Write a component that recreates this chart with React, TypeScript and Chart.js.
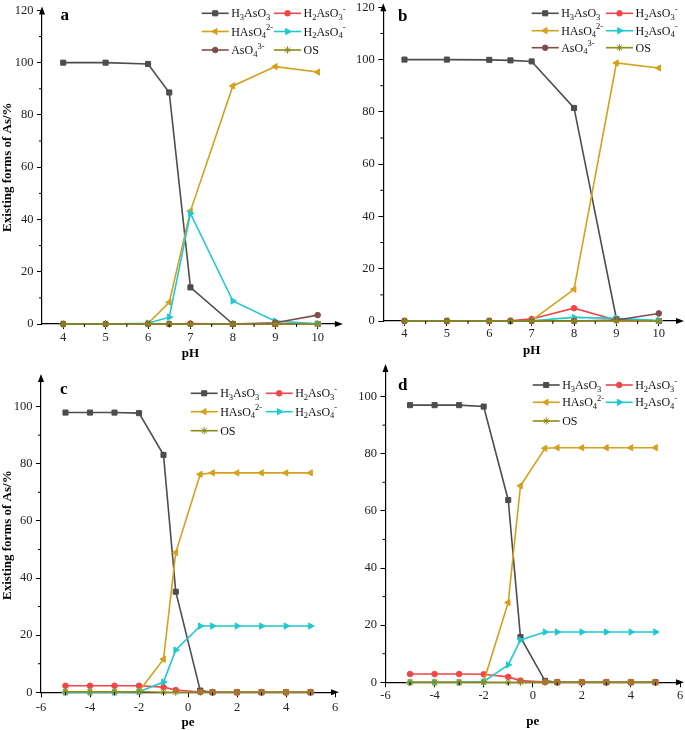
import React, { useEffect, useRef } from 'react';
import { Chart, registerables } from 'chart.js';
import { drawPoint } from 'chart.js/helpers';

Chart.register(...registerables);

// ---------- data ----------
const speciesLabels = ['H₃AsO₃', 'H₂AsO₃⁻', 'HAsO₄²⁻', 'H₂AsO₄⁻', 'AsO₄³⁻', 'OS'];

const pHValues = [4, 5, 6, 6.5, 7, 8, 9, 10];
const peValues = [-5, -4, -3, -2, -1, -0.5, 0.5, 1, 2, 3, 4, 5];

const pHTicks = [4, 5, 6, 7, 8, 9, 10];
const pHMinorTicks = [4.5, 5.5, 6.5, 7.5, 8.5, 9.5];
const peTicks = [-6, -4, -2, 0, 2, 4, 6];
const peMinorTicks = [-5, -3, -1, 1, 3, 5];
const yTicks120 = [0, 20, 40, 60, 80, 100, 120];
const yMinor120 = [10, 30, 50, 70, 90, 110];
const yTicks100 = [0, 20, 40, 60, 80, 100];
const yMinor100 = [10, 30, 50, 70, 90];

// panel a (pH)
const aH3AsO3 = [100, 100, 99.5, 88.6, 14.0, 0, 0, 0];
const aH2AsO3 = [0, 0, 0, 0, 0.2, 0, 0, 0];
const aHAsO4 = [0, 0, 0.2, 8.3, 43.2, 91.1, 98.5, 96.4];
const aH2AsO4 = [0, 0, 0.3, 2.6, 42.3, 8.8, 1.1, 0.1];
const aAsO4 = [0, 0, 0, 0, 0, 0, 0.5, 3.4];
const aOS = [0, 0, 0, 0, 0, 0, 0, 0];

// panel b (pH)
const bH3AsO3 = [100, 100, 99.9, 99.7, 99.3, 81.5, 0.8, 0];
const bH2AsO3 = [0, 0, 0, 0.1, 0.8, 4.9, 0.3, 0];
const bHAsO4 = [0, 0, 0, 0, 0.2, 12.1, 98.7, 96.8];
const bH2AsO4 = [0, 0, 0, 0, 0.1, 1.4, 1.0, 0.2];
const bAsO4 = [0, 0, 0, 0, 0, 0, 0.4, 2.9];
const bOS = [0, 0, 0, 0, 0, 0, 0, 0];

// panel c (pe)
const cH3AsO3 = [97.9, 97.9, 97.9, 97.7, 83.1, 35.2, 0.6, 0, 0, 0, 0, 0];
const cH2AsO3 = [2.3, 2.3, 2.3, 2.3, 1.8, 0.8, 0.1, 0, 0, 0, 0, 0];
const cHAsO4 = [0, 0, 0, 0.3, 11.6, 48.9, 76.3, 76.8, 76.8, 76.8, 76.8, 76.8];
const cH2AsO4 = [0, 0, 0, 0.2, 3.6, 14.8, 23.2, 23.2, 23.2, 23.2, 23.2, 23.2];
const cOS = [0.2, 0.2, 0.2, 0.2, 0, 0, 0, 0, 0, 0, 0, 0];

// panel d (pe)
const dH3AsO3 = [97.0, 97.0, 97.0, 96.5, 63.8, 15.8, 0.5, 0, 0, 0, 0, 0];
const dH2AsO3 = [2.9, 2.9, 2.9, 2.8, 1.9, 0.6, 0.1, 0, 0, 0, 0, 0];
const dHAsO4 = [0, 0, 0, 0.2, 27.9, 68.8, 81.9, 82.1, 82.1, 82.1, 82.1, 82.1];
const dH2AsO4 = [0, 0, 0, 0.2, 6.1, 14.8, 17.6, 17.6, 17.6, 17.6, 17.6, 17.6];
const dOS = [0, 0, 0, 0, 0, 0, 0, 0, 0, 0, 0, 0];

// ---------- styles ----------
const seriesStyles = [
  { color: '#4d4d4d', pointStyle: 'rect', radius: 3.6, rotation: 0 },
  { color: '#f2454a', pointStyle: 'circle', radius: 2.8, rotation: 0 },
  { color: '#d4a11c', pointStyle: 'triangle', radius: 3.6, rotation: -90 },
  { color: '#1fc9cf', pointStyle: 'triangle', radius: 3.6, rotation: 90 },
  { color: '#7f4d4d', pointStyle: 'circle', radius: 2.8, rotation: 0 },
  { color: '#8c8c14', pointStyle: 'star', radius: 3.6, rotation: 0 },
];

const SERIF = "'Liberation Serif', 'Times New Roman', serif";

type Box = { x: number; y: number; w: number; h: number };
type Area = { l: number; t: number; r: number; b: number };
type PanelCfg = {
  key: string;
  box: Box;
  area: Area;
  yWidth: number;
  xHeight: number;
  xTickPad: number;
  xMin: number; xMax: number; xTicks: number[]; xMinor: number[];
  yMax: number; yTicks: number[]; yMinor: number[];
  xs: number[];
  seriesIdx: number[];
  series: number[][];
  xTitle: string;
  yTitle: string | null;
  letter: string;
  letterPos: { x: number; y: number };
  legendCols: number[];
  legendRows: number[];
};

const panels: PanelCfg[] = [
  {
    key: 'a', box: { x: 0, y: 0, w: 348, h: 362 }, area: { l: 42, t: 10.4, r: 338.9, b: 324 },
    yWidth: 42, xHeight: 36.5, xTickPad: 1.5,
    xMin: 3.5, xMax: 10.5, xTicks: pHTicks, xMinor: pHMinorTicks,
    yMax: 120, yTicks: yTicks120, yMinor: yMinor120,
    xs: pHValues, seriesIdx: [0, 1, 2, 3, 4, 5],
    series: [aH3AsO3, aH2AsO3, aHAsO4, aH2AsO4, aAsO4, aOS],
    xTitle: 'pH', yTitle: 'Existing forms of As/%',
    letter: 'a', letterPos: { x: 60.5, y: 20 },
    legendCols: [201.7, 274], legendRows: [13.3, 31.5, 50],
  },
  {
    key: 'b', box: { x: 342, y: 0, w: 343, h: 362 }, area: { l: 383.3, t: 7.3, r: 681, b: 321 },
    yWidth: 40, xHeight: 36.5, xTickPad: 0,
    xMin: 3.5, xMax: 10.5, xTicks: pHTicks, xMinor: pHMinorTicks,
    yMax: 120, yTicks: yTicks120, yMinor: yMinor120,
    xs: pHValues, seriesIdx: [0, 1, 2, 3, 4, 5],
    series: [bH3AsO3, bH2AsO3, bHAsO4, bH2AsO4, bAsO4, bOS],
    xTitle: 'pH', yTitle: null,
    letter: 'b', letterPos: { x: 398, y: 20.7 },
    legendCols: [531.7, 606], legendRows: [13.3, 30.7, 47.7],
  },
  {
    key: 'c', box: { x: 0, y: 362, w: 345, h: 368 }, area: { l: 41, t: 378, r: 335, b: 692.3 },
    yWidth: 41, xHeight: 37.2, xTickPad: 3,
    xMin: -6, xMax: 6, xTicks: peTicks, xMinor: peMinorTicks,
    yMax: 110, yTicks: yTicks100, yMinor: yMinor100,
    xs: peValues, seriesIdx: [0, 1, 2, 3, 5],
    series: [cH3AsO3, cH2AsO3, cHAsO4, cH2AsO4, cOS],
    xTitle: 'pe', yTitle: 'Existing forms of As/%',
    letter: 'c', letterPos: { x: 60, y: 393.5 },
    legendCols: [190.7, 265.7], legendRows: [393.3, 411.7, 430.7],
  },
  {
    key: 'd', box: { x: 342, y: 362, w: 343, h: 368 }, area: { l: 385.5, t: 368, r: 680.7, b: 682.3 },
    yWidth: 43.5, xHeight: 45.9, xTickPad: 0.5,
    xMin: -6, xMax: 6, xTicks: peTicks, xMinor: peMinorTicks,
    yMax: 110, yTicks: yTicks100, yMinor: yMinor100,
    xs: peValues, seriesIdx: [0, 1, 2, 3, 5],
    series: [dH3AsO3, dH2AsO3, dHAsO4, dH2AsO4, dOS],
    xTitle: 'pe', yTitle: null,
    letter: 'd', letterPos: { x: 398, y: 390 },
    legendCols: [532.7, 605.7], legendRows: [385, 402.3, 421],
  },
];

// ---------- helpers ----------
const SUB = '₀₁₂₃₄₅₆₇₈₉';
const SUP = '⁰¹²³⁴⁵⁶⁷⁸⁹';
function labelSegments(label: string) {
  const out: { kind: string; t: string }[] = [];
  for (const ch of label) {
    let kind = 'n';
    let t = ch;
    const si = SUB.indexOf(ch);
    const pi = SUP.indexOf(ch);
    if (si >= 0) { kind = 'sub'; t = String(si); }
    else if (pi >= 0) { kind = 'sup'; t = String(pi); }
    else if (ch === '⁻') { kind = 'sup'; t = '-'; }
    if (out.length && out[out.length - 1].kind === kind) out[out.length - 1].t += t;
    else out.push({ kind, t });
  }
  return out;
}

function makeDecor(cfg: PanelCfg) {
  return {
    id: 'decor',
    afterDraw(chart: any) {
      const ctx = chart.ctx as CanvasRenderingContext2D;
      const { left, right, top, bottom } = chart.chartArea;
      const xs = chart.scales.x;
      const ys = chart.scales.y;
      ctx.save();
      // minor ticks
      ctx.strokeStyle = '#000';
      ctx.lineWidth = 1;
      ctx.beginPath();
      for (const v of cfg.xMinor) {
        const px = xs.getPixelForValue(v);
        ctx.moveTo(px, bottom);
        ctx.lineTo(px, bottom + 3);
      }
      for (const v of cfg.yMinor) {
        const py = ys.getPixelForValue(v);
        ctx.moveTo(left, py);
        ctx.lineTo(left - 3, py);
      }
      ctx.stroke();
      // arrows
      ctx.fillStyle = '#000';
      ctx.beginPath();
      ctx.moveTo(left, top - 4);
      ctx.lineTo(left - 3, top + 4);
      ctx.lineTo(left + 3, top + 4);
      ctx.closePath();
      ctx.fill();
      ctx.beginPath();
      ctx.moveTo(right + 4, bottom);
      ctx.lineTo(right - 4, bottom - 3);
      ctx.lineTo(right - 4, bottom + 3);
      ctx.closePath();
      ctx.fill();
      // panel letter
      ctx.font = `bold 17px ${SERIF}`;
      ctx.textBaseline = 'alphabetic';
      ctx.textAlign = 'left';
      ctx.fillStyle = '#000';
      ctx.fillText(cfg.letter, cfg.letterPos.x - cfg.box.x, cfg.letterPos.y - cfg.box.y);
      // legend
      chart.data.datasets.forEach((ds: any, i: number) => {
        const row = Math.floor(i / 2);
        const col = i % 2;
        const x0 = cfg.legendCols[col] - cfg.box.x;
        const y0 = cfg.legendRows[row] - cfg.box.y;
        const x1 = x0 + 27;
        ctx.strokeStyle = ds.borderColor;
        ctx.fillStyle = ds.backgroundColor;
        ctx.lineWidth = 1.6;
        ctx.beginPath();
        ctx.moveTo(x0, y0);
        ctx.lineTo(x1, y0);
        ctx.stroke();
        ctx.lineWidth = 1;
        drawPoint(ctx, {
          pointStyle: ds.pointStyle,
          rotation: ds.pointRotation || 0,
          radius: ds.pointRadius,
          borderWidth: 1,
        } as any, (x0 + x1) / 2, y0);
        // text
        let tx = x1 + 2.5;
        const base = y0 + 4;
        ctx.fillStyle = '#111';
        for (const seg of labelSegments(ds.label)) {
          if (seg.kind === 'n') {
            ctx.font = `12px ${SERIF}`;
            ctx.fillText(seg.t, tx, base);
          } else if (seg.kind === 'sub') {
            ctx.font = `8.5px ${SERIF}`;
            ctx.fillText(seg.t, tx, base + 2.5);
          } else {
            ctx.font = `8.5px ${SERIF}`;
            ctx.fillText(seg.t, tx, base - 5.5);
          }
          tx += ctx.measureText(seg.t).width;
        }
      });
      ctx.restore();
    },
  };
}

function buildConfig(cfg: PanelCfg): any {
  const pad = {
    left: cfg.area.l - cfg.box.x - cfg.yWidth,
    top: cfg.area.t - cfg.box.y,
    right: cfg.box.x + cfg.box.w - cfg.area.r,
    bottom: cfg.box.y + cfg.box.h - cfg.area.b - cfg.xHeight,
  };
  const tickFont = { family: SERIF, size: 12.5 };
  const titleFont = { family: SERIF, size: 13, weight: 'bold', lineHeight: 1 };
  return {
    type: 'line',
    data: {
      datasets: cfg.seriesIdx.map((si, k) => ({
        label: speciesLabels[si],
        data: cfg.xs.map((x, j) => ({ x, y: cfg.series[k][j] })),
        order: -k,
        borderColor: seriesStyles[si].color,
        backgroundColor: seriesStyles[si].color,
        pointStyle: seriesStyles[si].pointStyle,
        pointRadius: seriesStyles[si].radius,
        pointRotation: seriesStyles[si].rotation,
        pointBorderWidth: 1,
        borderWidth: 1.6,
        tension: 0,
        clip: false,
      })),
    },
    options: {
      responsive: false,
      animation: false,
      devicePixelRatio: 1,
      events: [],
      layout: { padding: pad },
      plugins: { legend: { display: false }, tooltip: { enabled: false } },
      scales: {
        x: {
          type: 'linear',
          min: cfg.xMin,
          max: cfg.xMax,
          afterBuildTicks: (s: any) => { s.ticks = cfg.xTicks.map((v) => ({ value: v })); },
          afterFit: (s: any) => { s.height = cfg.xHeight; s.paddingLeft = 0; s.paddingRight = 0; },
          ticks: {
            autoSkip: false, maxRotation: 0, font: tickFont, color: '#222', padding: cfg.xTickPad,
            callback: (v: any) => String(v),
          },
          grid: { display: true, drawOnChartArea: false, drawTicks: true, tickLength: 5, tickColor: '#000', tickWidth: 1 },
          border: { display: true, color: '#000', width: 1.2 },
          title: { display: true, text: cfg.xTitle, font: titleFont, color: '#000', padding: { top: 0, bottom: 0 } },
        },
        y: {
          type: 'linear',
          min: 0,
          max: cfg.yMax,
          afterBuildTicks: (s: any) => { s.ticks = cfg.yTicks.map((v) => ({ value: v })); },
          afterFit: (s: any) => { s.width = cfg.yWidth; s.paddingTop = 0; s.paddingBottom = 0; },
          ticks: { font: tickFont, color: '#222', padding: 3.5, callback: (v: any) => String(v) },
          grid: { display: true, drawOnChartArea: false, drawTicks: true, tickLength: 5, tickColor: '#000', tickWidth: 1 },
          border: { display: true, color: '#000', width: 1.2 },
          title: {
            display: !!cfg.yTitle, text: cfg.yTitle || '', font: titleFont, color: '#000',
            padding: { top: 1.5, bottom: 0 },
          },
        },
      },
    },
    plugins: [makeDecor(cfg)],
  };
}

function Panel({ cfg }: { cfg: PanelCfg }) {
  const ref = useRef<HTMLCanvasElement>(null);
  useEffect(() => {
    if (!ref.current) return;
    const chart = new Chart(ref.current, buildConfig(cfg));
    return () => chart.destroy();
  }, [cfg]);
  return (
    <canvas
      ref={ref}
      width={cfg.box.w}
      height={cfg.box.h}
      style={{ position: 'absolute', left: cfg.box.x, top: cfg.box.y, width: cfg.box.w, height: cfg.box.h }}
    />
  );
}

export default function App() {
  return (
    <div style={{ position: 'fixed', left: 0, top: 0, width: 685, height: 730, overflow: 'hidden', background: '#fff' }}>
      {panels.map((p) => (
        <Panel key={p.key} cfg={p} />
      ))}
    </div>
  );
}
